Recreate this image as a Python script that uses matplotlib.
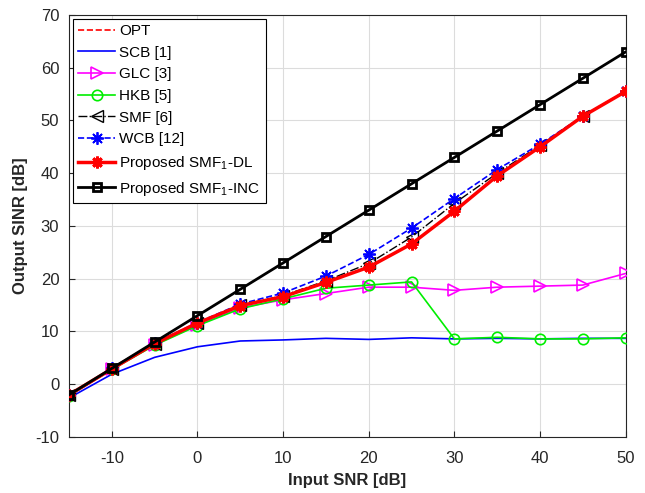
import matplotlib
matplotlib.use("Agg")
import matplotlib.pyplot as plt

plt.rcParams['font.family'] = ['Liberation Sans', 'DejaVu Sans']
plt.rcParams['mathtext.fontset'] = 'custom'
plt.rcParams['mathtext.rm'] = 'Liberation Sans'
plt.rcParams['axes.unicode_minus'] = False

snr = [-15, -10, -5, 0, 5, 10, 15, 20, 25, 30, 35, 40, 45, 50]
opt = [-2, 2.9, 7.7, 11.6, 14.9, 16.6, 19.3, 22.2, 26.6, 32.8, 39.5, 45.0, 50.8, 55.5]
scb = [-2.6, 1.9, 5.1, 7.1, 8.2, 8.4, 8.7, 8.5, 8.8, 8.6, 8.7, 8.6, 8.7, 8.7]
glc = [-2.2, 2.8, 7.5, 11.2, 14.5, 16.0, 17.2, 18.4, 18.4, 17.8, 18.4, 18.6, 18.8, 21.0]
hkb = [-2.2, 2.8, 7.4, 11.1, 14.3, 16.2, 18.2, 18.8, 19.4, 8.6, 8.9, 8.6, 8.6, 8.8]
smf = [-2, 2.9, 7.7, 11.6, 15.0, 16.8, 19.6, 22.9, 27.9, 34.3, 40.0, 45.3, 50.8, 55.5]
wcb = [-2, 3.0, 7.8, 11.7, 15.2, 17.3, 20.5, 24.6, 29.6, 35.2, 40.7, 45.5, 50.8, 55.6]
dl  = [-2, 2.9, 7.7, 11.6, 14.9, 16.6, 19.3, 22.2, 26.6, 32.8, 39.5, 45.0, 50.8, 55.5]
inc = [-2, 3, 8, 13, 18, 23, 28, 33, 38, 43, 48, 53, 58, 63]

xticks = [-10, 0, 10, 20, 30, 40, 50]
yticks = [-10, 0, 10, 20, 30, 40, 50, 60, 70]

fig = plt.figure(figsize=(6.45, 4.93), dpi=100)
ax = fig.add_axes([0.107, 0.1136, 0.863, 0.856])

ast = (8, 2, 0)
ax.plot(snr, opt, '--', color='#ff0000', lw=1.2, label='OPT', zorder=2)
ax.plot(snr, scb, '-', color='#0000ff', lw=1.2, label='SCB [1]', zorder=2)
ax.plot(snr, glc, '-', color='#ff00ff', lw=1.2, marker='>', ms=8, mfc='none', mew=1.2, label='GLC [3]', zorder=3)
ax.plot(snr, hkb, '-', color='#00ee00', lw=1.2, marker='o', ms=7.5, mfc='none', mew=1.2, label='HKB [5]', zorder=3)
ax.plot(snr, smf, '-.', color='black', lw=1.0, marker='<', ms=8, mfc='none', mew=1.0, label='SMF [6]', zorder=3)
ax.plot(snr, wcb, '--', color='#0000ff', lw=1.2, marker=ast, ms=9, mew=1.3, label='WCB [12]', zorder=3)
ax.plot(snr, dl, '-', color='#ff0000', lw=2.5, marker=ast, ms=8.5, mew=2.0, label='Proposed SMF$_1$-DL', zorder=4)
ax.plot(snr, inc, '-', color='black', lw=2.0, marker='s', ms=6, mfc='none', mew=2.0, label='Proposed SMF$_1$-INC', zorder=4)

ax.set_xlim(-15, 50)
ax.set_ylim(-10, 70)
ax.set_xticks(xticks)
ax.set_yticks(yticks)
ax.grid(True, color='#dcdcdc', lw=0.8)
ax.set_axisbelow(True)
ax.tick_params(direction='in', labelsize=12, colors='#262626', length=4)
ax.tick_params(axis='x', pad=10)
ax.tick_params(axis='y', pad=7)
for s in ax.spines.values():
    s.set_color('#262626')
    s.set_linewidth(0.8)

ax.set_xlabel('Input SNR [dB]', fontsize=12, fontweight='bold', color='#262626', labelpad=5)
ax.set_ylabel('Output SINR [dB]', fontsize=12, fontweight='bold', color='#262626', labelpad=5)

leg = ax.legend(loc='upper left', fontsize=11, frameon=True, fancybox=False,
                edgecolor='black', framealpha=1, borderaxespad=0.25,
                handlelength=2.4, labelspacing=0.5, handletextpad=0.3, borderpad=0.35)
leg.get_frame().set_linewidth(0.8)

fig.savefig('out.png', dpi=100)
